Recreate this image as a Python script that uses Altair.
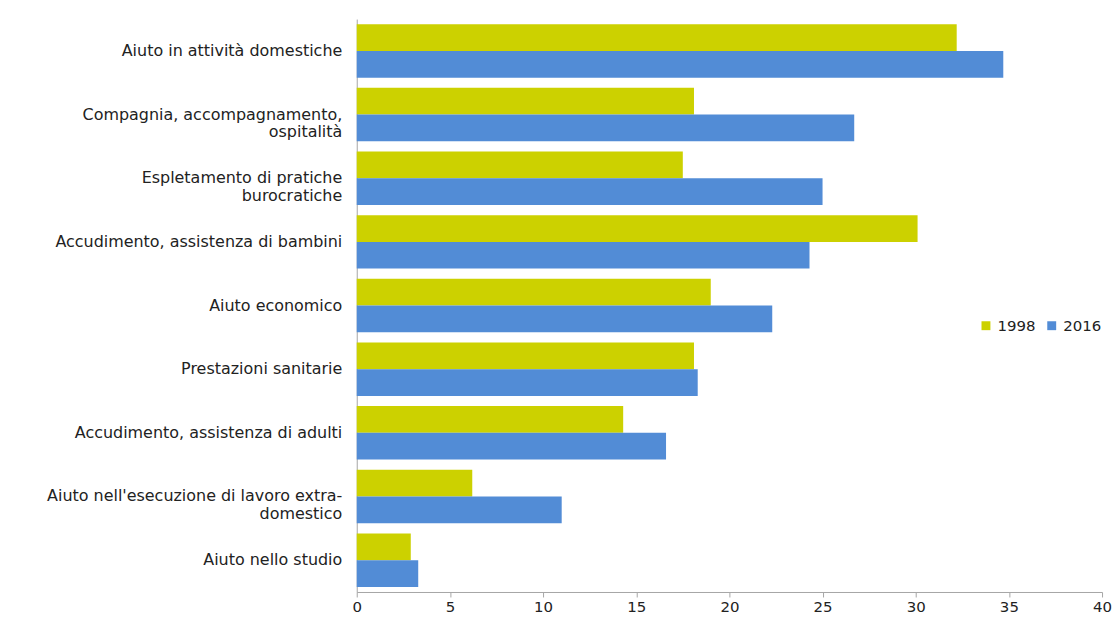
import altair as alt
import pandas as pd

categories = [
    "Aiuto in attività domestiche",
    "Compagnia, accompagnamento,\nospitalità",
    "Espletamento di pratiche\nburocratiche",
    "Accudimento, assistenza di bambini",
    "Aiuto economico",
    "Prestazioni sanitarie",
    "Accudimento, assistenza di adulti",
    "Aiuto nell'esecuzione di lavoro extra-\ndomestico",
    "Aiuto nello studio",
]
values_1998 = [32.2, 18.1, 17.5, 30.1, 19.0, 18.1, 14.3, 6.2, 2.9]
values_2016 = [34.7, 26.7, 25.0, 24.3, 22.3, 18.3, 16.6, 11.0, 3.3]
years = ["1998", "2016"]
colors = ["#CCD100", "#528CD6"]

rows = []
for c, a, b in zip(categories, values_1998, values_2016):
    rows.append({"cat": c, "year": years[0], "value": a})
    rows.append({"cat": c, "year": years[1], "value": b})
df = pd.DataFrame(rows)

font = "DejaVu Sans"

chart = alt.Chart(df).mark_bar().encode(
    y=alt.Y("cat:N", sort=categories, title=None,
            scale=alt.Scale(paddingInner=0.16, paddingOuter=0.08),
            axis=alt.Axis(labelExpr="split(datum.label, '\\n')", ticks=False,
                          domainColor="#A6A6A6", labelPadding=15,
                          labelFontSize=16, labelFont=font, labelColor="#222222",
                          labelLimit=400, labelLineHeight=18)),
    yOffset=alt.YOffset("year:N", sort=years),
    x=alt.X("value:Q", title=None,
            scale=alt.Scale(domain=[0, 40], nice=False),
            axis=alt.Axis(values=list(range(0, 41, 5)), grid=False,
                          domainColor="#A6A6A6", tickColor="#A6A6A6", tickSize=5,
                          labelFontSize=15, labelFont=font, labelColor="#222222",
                          labelPadding=3, labelFlush=False)),
    color=alt.Color("year:N", scale=alt.Scale(domain=years, range=colors),
                    legend=alt.Legend(title=None, orient="none", direction="horizontal",
                                      legendX=624, legendY=300, symbolType="square",
                                      symbolSize=80, labelFontSize=15, labelFont=font,
                                      labelColor="#222222", columnPadding=8,
                                      labelOffset=4, symbolStrokeWidth=0)),
).properties(
    width=748, height=575,
    autosize=alt.AutoSizeParams(type="none"),
    padding={"left": 350, "top": 10, "right": 10, "bottom": 30},
).configure_view(stroke=None)

chart.save("out.html", embed_options={"renderer": "svg", "actions": False})
